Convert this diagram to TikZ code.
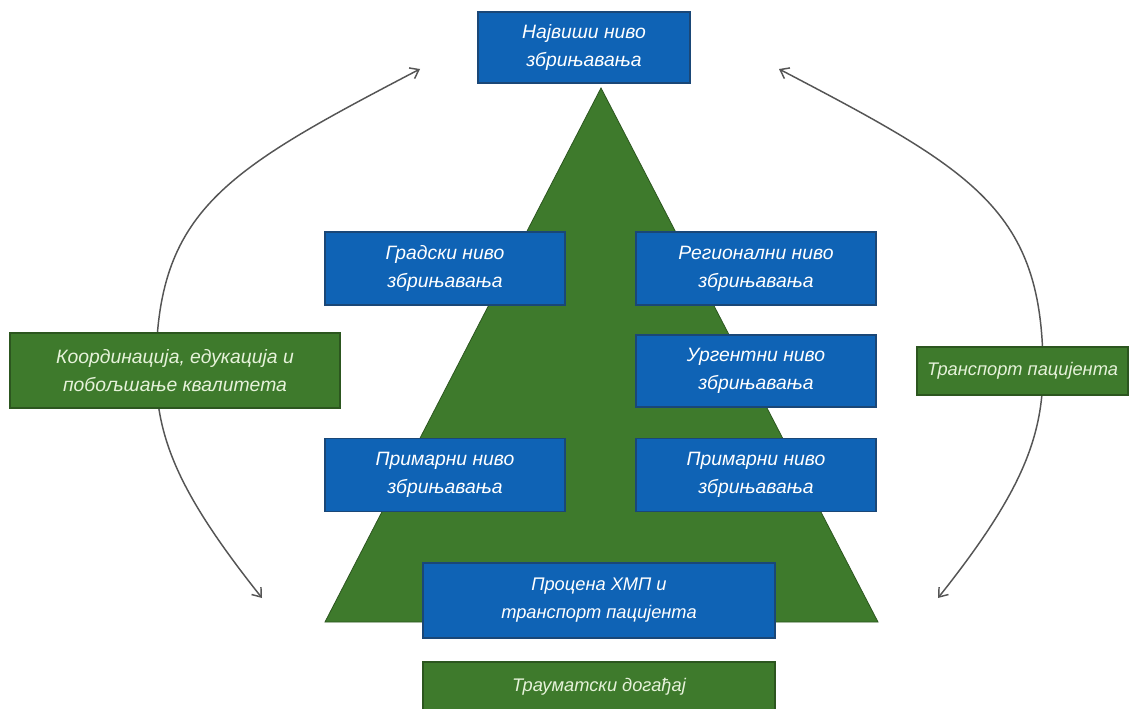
\documentclass[tikz,border=0pt]{standalone}
\usepackage{fontspec}
\setmainfont{Liberation Sans}
\usetikzlibrary{arrows.meta}

\definecolor{nivoblue}{HTML}{0F63B5}
\definecolor{nivobluedark}{HTML}{1A4777}
\definecolor{nivogreen}{HTML}{3E7A2C}
\definecolor{nivogreendark}{HTML}{2C561F}
\definecolor{greentext}{HTML}{E6F2DA}
\definecolor{cyclegray}{HTML}{555555}

\tikzset{
  bluebox/.style={draw=nivobluedark, fill=nivoblue, line width=0.8pt, text=white,
    align=center, inner sep=0pt, font=\itshape\fontsize{14.5}{21}\selectfont},
  greenbox/.style={draw=nivogreendark, fill=nivogreen, line width=0.8pt, text=greentext,
    align=center, inner sep=0pt, font=\itshape\fontsize{14.5}{21}\selectfont},
  smalltext/.style={font=\itshape\fontsize{13.7}{21}\selectfont},
  cyclearrow/.style={draw=cyclegray, line width=1.1pt,
    {Straight Barb[length=6pt,width=9pt]}-{Straight Barb[length=6pt,width=9pt]}}
}

\begin{document}
\begin{tikzpicture}[x=0.75pt,y=-0.75pt]

\useasboundingbox (0,0) rectangle (1132,709);
\fill[white] (0,0) rectangle (1132,709);

% The pyramid
\fill[nivogreen, draw=nivogreendark, line width=0.6pt] (325,622) -- (601,88) -- (878,622) -- cycle;

% Arc ends
\coordinate (lt) at (420,69);
\coordinate (lb) at (262,598);
\coordinate (rt) at (779,69);
\coordinate (rb) at (938,598);

% Side arcs
\draw[cyclearrow] (lb) .. controls (181,496) and (156,440) .. (156,370)
  .. controls (156,210) and (225,171) .. (lt);
\draw[cyclearrow] (rb) .. controls (1019,496) and (1043,440) .. (1043,370)
  .. controls (1043,210) and (974,171) .. (rt);

% Levels of care
\node[bluebox, minimum width=159pt, minimum height=53.25pt] (vrh) at (584,47.5) {Највиши ниво\\збрињавања};
\node[bluebox, minimum width=180pt, minimum height=54.75pt] (grad) at (445,268.5) {Градски ниво\\збрињавања};
\node[bluebox, minimum width=180pt, minimum height=54.75pt] (reg) at (756,268.5) {Регионални ниво\\збрињавања};
\node[bluebox, minimum width=180pt, minimum height=54pt] (urg) at (756,371) {Ургентни ниво\\збрињавања};
\node[bluebox, minimum width=180pt, minimum height=54.75pt] (priml) at (445,475) {Примарни ниво\\збрињавања};
\node[bluebox, minimum width=180pt, minimum height=54.75pt] (primd) at (756,475) {Примарни ниво\\збрињавања};
\node[bluebox, smalltext, minimum width=264pt, minimum height=56.25pt] (proc) at (599,600.5) {Процена ХМП и\\транспорт пацијента};

% Event and side labels
\node[greenbox, smalltext, minimum width=264pt, minimum height=37.5pt] (dog) at (599,687) {Трауматски догађај};
\node[greenbox, minimum width=247.5pt, minimum height=56.25pt] (koord) at (175,370.5) {Координација, едукација и\\побољшање квалитета};
\node[greenbox, smalltext, minimum width=158.25pt, minimum height=36pt] (trans) at (1022.5,371) {Транспорт пацијента};

\end{tikzpicture}
\end{document}
